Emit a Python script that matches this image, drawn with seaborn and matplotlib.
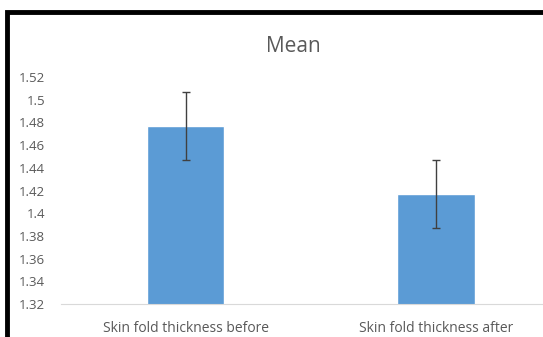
import numpy as np
import pandas as pd
import matplotlib
matplotlib.use("Agg")
import matplotlib.pyplot as plt
import seaborn as sns
from matplotlib.patches import Rectangle

sns.set_style("white")
plt.rcParams['font.family'] = ['Open Sans', 'DejaVu Sans']

# data
categories = ["Skin fold thickness before", "Skin fold thickness after"]
means = [1.477, 1.417]
errors = [0.030, 0.030]
yticks = [1.32, 1.34, 1.36, 1.38, 1.40, 1.42, 1.44, 1.46, 1.48, 1.50, 1.52]
ytick_labels = ["1.32", "1.34", "1.36", "1.38", "1.4", "1.42", "1.44", "1.46", "1.48", "1.5", "1.52"]

df = pd.DataFrame({"Label": categories, "Mean": means, "Err": errors})

fig = plt.figure(figsize=(5.43, 3.37), dpi=100)
W, H = 543., 337.
ax = fig.add_axes([60.5 / W, 33 / H, 500.5 / W, 227 / H])

sns.barplot(data=df, x="Label", y="Mean", color="#5B9BD5", saturation=1,
            width=0.31, errorbar=None, ax=ax)
ax.errorbar(np.arange(len(df)), df["Mean"], yerr=df["Err"], fmt="none",
            ecolor="#404040", elinewidth=1, capsize=3, capthick=1)

ax.set_ylim(yticks[0], yticks[-1])
ax.set_xlim(-0.5, 1.5)
ax.set_yticks(yticks)
ax.set_yticklabels(ytick_labels)
ax.tick_params(axis='y', length=0, pad=11, labelsize=9.5, labelcolor="#595959")
ax.tick_params(axis='x', length=0, pad=12, labelsize=10, labelcolor="#595959")
ax.set_xlabel("")
ax.set_ylabel("")
for s in ["top", "right", "left"]:
    ax.spines[s].set_visible(False)
ax.spines["bottom"].set_color("#D9D9D9")
ax.spines["bottom"].set_linewidth(0.8)

fig.text(293 / W, 1 - 47 / H, "Mean", ha="center", va="center",
         fontsize=15, color="#595959")

# black frame round the chart (cropped on the right and bottom)
fig.patches.append(Rectangle((7 / W, -0.2), 1.3, 1 - 12 / H + 0.2,
                             transform=fig.transFigure, fill=False,
                             edgecolor="black", linewidth=3.5, zorder=10))

plt.savefig("out.png", dpi=100)
